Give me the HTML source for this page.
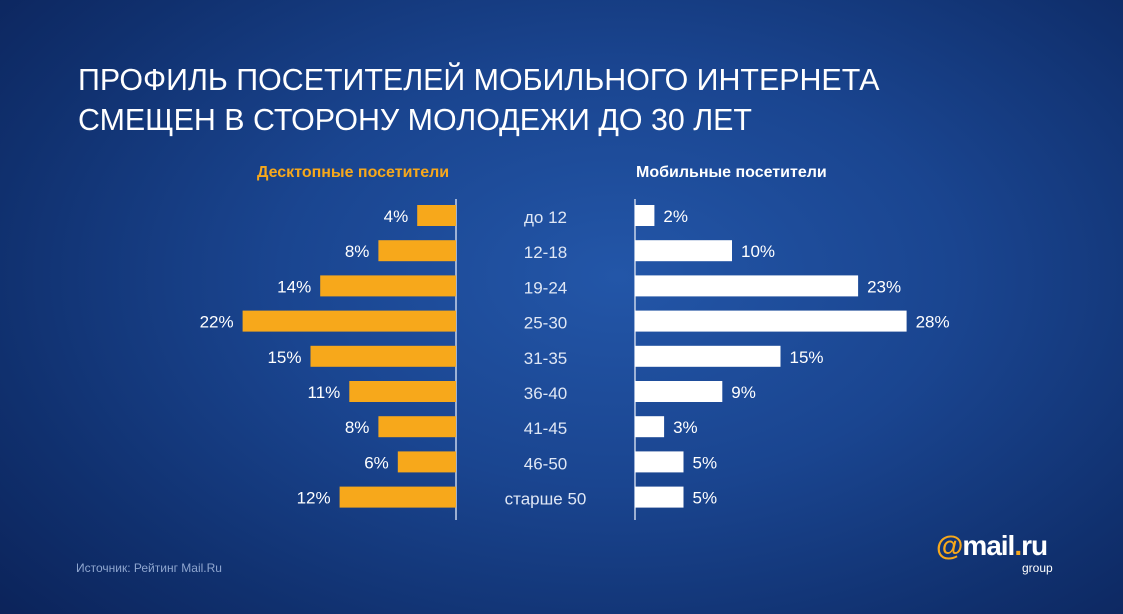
<!DOCTYPE html>
<html><head><meta charset="utf-8"><style>
html,body{margin:0;padding:0}
body{width:1123px;height:614px;overflow:hidden;font-family:"Liberation Sans","DejaVu Sans",sans-serif;
background:radial-gradient(ellipse 75% 85% at 55% 45%,#2356a8 0%,#1a4590 40%,#10306e 75%,#0b2258 100%);position:relative}
.t{position:absolute;color:#fff;white-space:nowrap}
</style></head><body>
<div class="t" style="left:78px;top:60px;font-size:31px;line-height:40px;transform:scaleX(0.98);transform-origin:left top">ПРОФИЛЬ ПОСЕТИТЕЛЕЙ МОБИЛЬНОГО ИНТЕРНЕТА<br>СМЕЩЕН В СТОРОНУ МОЛОДЕЖИ ДО 30 ЛЕТ</div>
<div class="t" style="left:257px;top:164px;font-size:16px;font-weight:bold;color:#f7a81b">Десктопные посетители</div>
<div class="t" style="left:636px;top:164px;font-size:16px;font-weight:bold">Мобильные посетители</div>
<div class="t" style="left:76px;top:561px;font-size:12px;color:#8fa6cf">Источник: Рейтинг Mail.Ru</div>
<div class="t" style="left:936px;top:530px;font-size:28px;font-weight:bold;letter-spacing:-1px"><span style="color:#f7a81b">@</span>mail<span style="color:#f7a81b">.</span>ru</div>
<div class="t" style="left:1022px;top:561px;font-size:12px">group</div>
<svg id="chart" width="1123" height="614" style="position:absolute;left:0;top:0"></svg>
<script>
const categories=["до 12","12-18","19-24","25-30","31-35","36-40","41-45","46-50","старше 50"];
const desktopValues=[4,8,14,22,15,11,8,6,12];
const mobileValues=[2,10,23,28,15,9,3,5,5];
const NS="http://www.w3.org/2000/svg";
const svg=document.getElementById('chart');
const leftAxis=456, rightAxis=635, pxPer=9.7, top0=205, pitch=35.2, bh=21;
const xL=v=>leftAxis-v*pxPer, xR=v=>rightAxis+v*pxPer, yRow=i=>top0+i*pitch;
function mk(tag,attrs){const e=document.createElementNS(NS,tag);for(const k in attrs)e.setAttribute(k,attrs[k]);svg.appendChild(e);return e;}
let l=mk('line',{x1:leftAxis,x2:leftAxis,y1:199,y2:520,stroke:'#c8d4ea','stroke-width':1.5});


l=mk('line',{x1:rightAxis,x2:rightAxis,y1:199,y2:520,stroke:'#c8d4ea','stroke-width':1.5});


categories.forEach((c,i)=>{
 const y=yRow(i);
 let r=mk('rect',{x:xL(desktopValues[i]),y:y,width:leftAxis-xL(desktopValues[i]),height:bh,fill:'#f7a81b'});
 
 
 let t=mk('text',{x:xL(desktopValues[i])-9,y:y+17,'text-anchor':'end',fill:'#fff','font-size':17});
 t.textContent=desktopValues[i]+'%';
 
 
 r=mk('rect',{x:rightAxis,y:y,width:xR(mobileValues[i])-rightAxis,height:bh,fill:'#fff'});
 
 
 t=mk('text',{x:xR(mobileValues[i])+9,y:y+17,'text-anchor':'start',fill:'#fff','font-size':17});
 t.textContent=mobileValues[i]+'%';
 
 
 t=mk('text',{x:(leftAxis+rightAxis)/2,y:y+18,'text-anchor':'middle',fill:'#dfe7f5','font-size':17});
 t.textContent=c;
 
 
});
</script>
</body></html>
